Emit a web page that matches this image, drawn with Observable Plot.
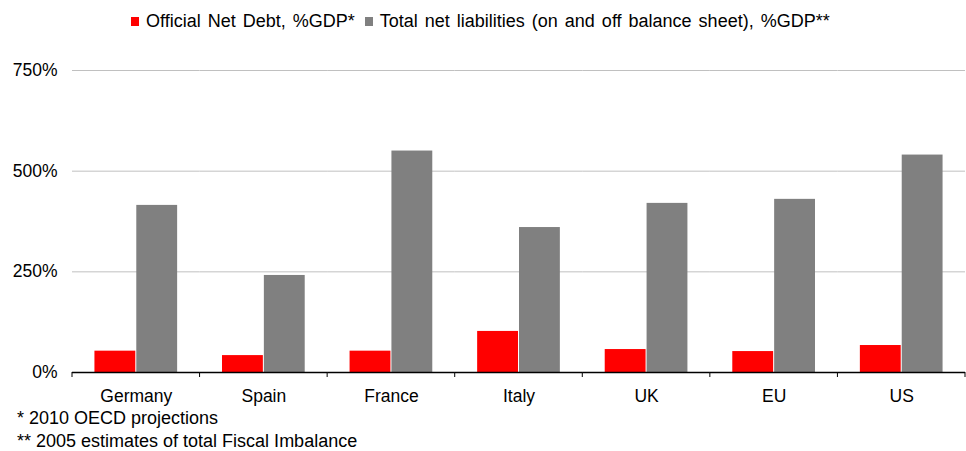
<!DOCTYPE html>
<html>
<head>
<meta charset="utf-8">
<script src="https://cdn.jsdelivr.net/npm/d3@7"></script>
<script src="https://cdn.jsdelivr.net/npm/@observablehq/plot@0.6"></script>
<style>
  html, body { margin: 0; padding: 0; background: #fff; }
  body { width: 966px; height: 451px; overflow: hidden; font-family: "Liberation Sans", Arial, sans-serif; color: #000; }
  #legend { padding-top: 11px; height: 31px; display: flex; padding-left: 131px; font-size: 18px; line-height: 20px; white-space: nowrap; word-spacing: 2px; }
  #legend .sw { display: inline-block; width: 8px; height: 9px; margin-top: 6px; margin-right: 7px; }
  #legend .item { display: flex; margin-right: 10px; }
  #notes { font-size: 18px; line-height: 23px; margin-top: -3px; padding-left: 17px; white-space: nowrap; }
  svg { display: block; }
</style>
</head>
<body>
<div id="legend"></div>
<div id="chart"></div>
<div id="notes"></div>
<script>
const countries = ["Germany", "Spain", "France", "Italy", "UK", "EU", "US"];
const netDebt = [53, 42, 53, 102, 57, 52, 67];
const liabilities = [415, 241, 550, 360, 420, 430, 540];
const series = ["Official Net Debt, %GDP*", "Total net liabilities (on and off balance sheet), %GDP**"];
const colors = ["#ff0000", "#808080"];
const yTicks = [0, 250, 500, 750];
const footnotes = ["* 2010 OECD projections", "** 2005 estimates of total Fiscal Imbalance"];

const data = countries.flatMap((c, i) => [
  {country: c, series: series[0], value: netDebt[i]},
  {country: c, series: series[1], value: liabilities[i]}
]);

// legend
const legend = d3.select("#legend");
series.forEach((s, i) => {
  const it = legend.append("div").attr("class", "item");
  it.append("span").attr("class", "sw").style("background", colors[i]);
  it.append("span").text(s);
});

const font = '"Liberation Sans", Arial, sans-serif';
const chart = Plot.plot({
  width: 966,
  height: 368,
  marginTop: 28,
  marginBottom: 38,
  marginLeft: 72,
  marginRight: 1,
  style: {fontFamily: font, fontSize: "17.5px", color: "#000", background: "white", overflow: "visible"},
  fx: {domain: countries, padding: 0, round: false, label: null},
  x: {domain: series, paddingInner: 0.024, paddingOuter: 0.536, round: false, axis: null},
  y: {domain: [0, 750], label: null},
  color: {domain: series, range: colors},
  marks: [
    Plot.gridY(yTicks.filter(d => d > 0), {stroke: "#c0c0c0", strokeOpacity: 1, strokeWidth: 1}),
    Plot.axisY(yTicks, {tickSize: 0, tickPadding: 15, tickFormat: d => d + "%", label: null, anchor: "left", fontSize: 17.5, fill: "#000"}),
    Plot.barY(data, {fx: "country", x: "series", y: "value", fill: "series"}),
    Plot.ruleY([0], {stroke: "#000", strokeWidth: 1.5}),
    Plot.axisFx({tickSize: 0, tickPadding: 17, label: null, anchor: "bottom", fontSize: 17.5, fill: "#000"})
  ]
});
document.getElementById("chart").appendChild(chart);

// boundary ticks between categories, using Plot's fx and y scales
const fx = chart.scale("fx");
const y = chart.scale("y");
const y0 = y.apply(0);
const bounds = countries.map(c => fx.apply(c)).concat([fx.range[1]]);
d3.select(chart).append("g")
  .selectAll("line").data(bounds).join("line")
  .attr("x1", d => d).attr("x2", d => d)
  .attr("y1", y0).attr("y2", y0 + 5)
  .attr("stroke", "#000").attr("stroke-width", 1);

d3.select("#notes").selectAll("div").data(footnotes).join("div").text(d => d);
</script>
</body>
</html>
